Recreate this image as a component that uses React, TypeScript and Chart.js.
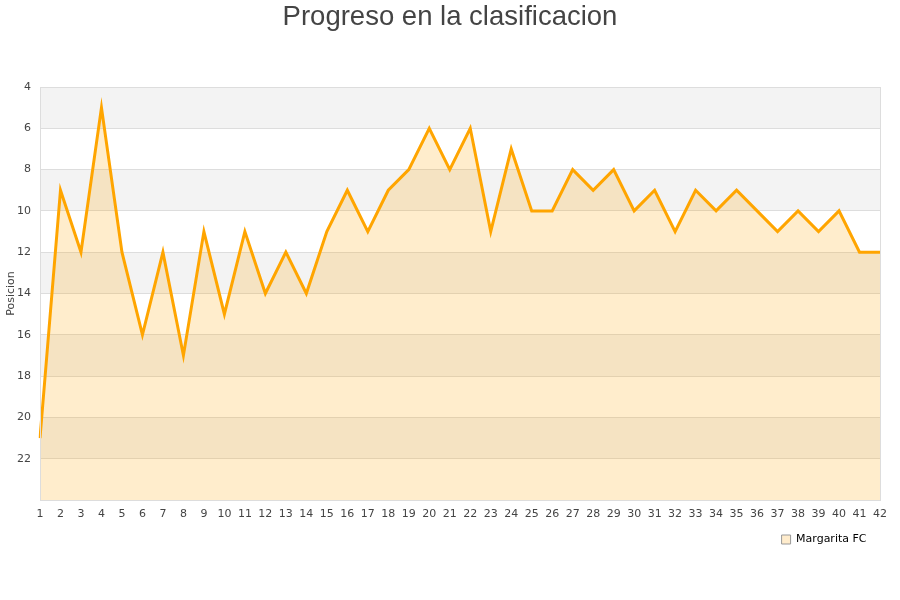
import React, { useEffect, useRef } from "react";
import { Chart, registerables } from "chart.js";

Chart.register(...registerables);

const rounds: string[] = Array.from({ length: 42 }, (_, i) => String(i + 1));
const positions: number[] = [
  21, 9, 12, 5, 12, 16, 12, 17, 11, 15, 11, 14, 12, 14, 11, 9, 11, 9, 8, 6, 8,
  6, 11, 7, 10, 10, 8, 9, 8, 10, 9, 11, 9, 10, 9, 10, 11, 10, 11, 10, 12, 12,
];
const teamName = "Margarita FC";
const titleText = "Progreso en la clasificacion";
const yTitle = "Posicion";
const grayBands: [number, number][] = [
  [4, 6],
  [8, 10],
  [12, 14],
  [16, 18],
  [20, 22],
];

const bandsPlugin = {
  id: "bands",
  afterLayout(chart: any) {
    if (chart.titleBlock) {
      chart.titleBlock.left = 0;
      chart.titleBlock.right = chart.width;
    }
  },
  beforeDraw(chart: any) {
    const { ctx, chartArea } = chart;
    const y = chart.scales.y;
    ctx.save();
    ctx.fillStyle = "#f3f3f3";
    for (const [a, b] of grayBands) {
      const p1 = y.getPixelForValue(a);
      const p2 = y.getPixelForValue(b);
      ctx.fillRect(chartArea.left, Math.min(p1, p2), chartArea.right - chartArea.left, Math.abs(p2 - p1));
    }
    ctx.restore();
  },
  afterDatasetsDraw(chart: any) {
    const { ctx, chartArea } = chart;
    ctx.save();
    ctx.strokeStyle = "#dddddd";
    ctx.lineWidth = 1;
    ctx.strokeRect(
      Math.round(chartArea.left) + 0.5,
      Math.round(chartArea.top) + 0.5,
      Math.round(chartArea.right - chartArea.left),
      Math.round(chartArea.bottom - chartArea.top)
    );
    ctx.restore();
  },
};

export default function App() {
  const ref = useRef<HTMLCanvasElement>(null);
  useEffect(() => {
    if (!ref.current) return;
    const chart = new Chart(ref.current, {
      type: "line",
      data: {
        labels: rounds,
        datasets: [
          {
            label: teamName,
            data: positions,
            borderColor: "#ffa500",
            backgroundColor: "rgba(255,165,0,0.2)",
            borderWidth: 3,
            pointRadius: 0,
            tension: 0,
            fill: { value: 24 } as any,
          },
        ],
      },
      options: {
        animation: false,
        responsive: false,
        maintainAspectRatio: false,
        layout: { padding: { left: 0, right: 20, top: 0, bottom: 45 } },
        plugins: {
          title: {
            display: true,
            text: titleText,
            color: "#444444",
            font: { family: "'Liberation Sans', Arial, sans-serif", size: 27.5, weight: "normal" },
            padding: { top: 1, bottom: 53 },
          },
          legend: {
            position: "bottom",
            align: "end",
            labels: {
              color: "#111111",
              font: { family: "'DejaVu Sans', sans-serif", size: 11 },
              boxWidth: 9,
              boxHeight: 9,
              padding: 10,
              generateLabels: () => [
                {
                  text: teamName + "\u00a0",
                  fillStyle: "rgba(255,236,204,1)",
                  strokeStyle: "#999999",
                  lineWidth: 1,
                  datasetIndex: 0,
                } as any,
              ],
            },
          },
          tooltip: { enabled: false },
        },
        scales: {
          x: {
            type: "category",
            offset: false,
            grid: { display: false, drawTicks: false },
            border: { display: false },
            afterFit: (scale: any) => {
              scale.height = 24;
            },
            ticks: {
              color: "#444444",
              font: { family: "'DejaVu Sans', sans-serif", size: 11 },
              padding: 8,
              maxRotation: 0,
              autoSkip: false,
            },
          },
          y: {
            reverse: true,
            min: 4,
            max: 24,
            afterFit: (scale: any) => {
              scale.width = 40;
            },
            title: {
              display: true,
              text: yTitle,
              color: "#444444",
              font: { family: "'DejaVu Sans', sans-serif", size: 11 },
              padding: { top: 5, bottom: 0 },
            },
            grid: { color: "#dddddd", drawTicks: false },
            border: { display: false },
            ticks: {
              stepSize: 2,
              color: "#444444",
              font: { family: "'DejaVu Sans', sans-serif", size: 11 },
              padding: 9,
              callback: (v: any) => (v === 24 ? "" : String(v)),
            },
          },
        },
      },
      plugins: [bandsPlugin],
    });
    return () => chart.destroy();
  }, []);
  return (
    <div style={{ position: "fixed", left: 0, top: 0, width: 900, height: 600, background: "#fff" }}>
      <canvas ref={ref} width={900} height={600} style={{ width: 900, height: 600 }} />
    </div>
  );
}
